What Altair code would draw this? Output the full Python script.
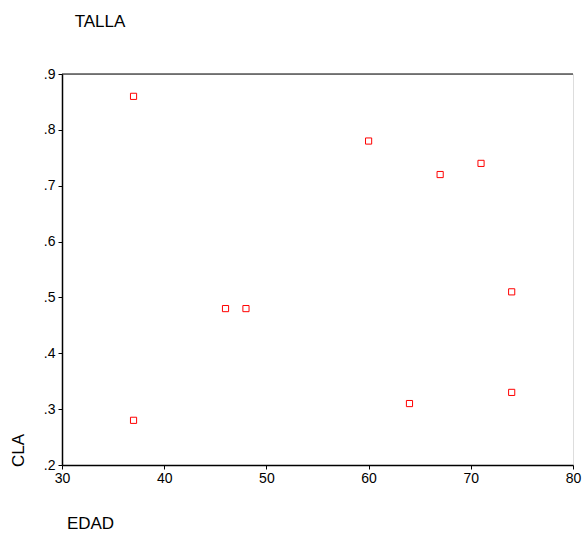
import altair as alt
import pandas as pd

edad = [37, 60, 67, 71, 74, 46, 48, 37, 64, 74]
cla = [0.86, 0.78, 0.72, 0.74, 0.51, 0.48, 0.48, 0.28, 0.31, 0.33]
x_ticks = [30, 40, 50, 60, 70, 80]
y_ticks = [0.2, 0.3, 0.4, 0.5, 0.6, 0.7, 0.8, 0.9]

df = pd.DataFrame({"EDAD": edad, "CLA": cla})
FONT = "Liberation Sans"

common = dict(grid=False, domainColor="black", domainWidth=1.5, tickColor="black", tickSize=4,
              labelColor="black", labelFont=FONT, labelFontSize=14, titleFont=FONT,
              titleColor="black", titleFontWeight="normal", titleFontSize=17,
              labelFlush=False, labelOverlap=False)

points = alt.Chart(df).mark_point(
    shape="square", filled=False, color="#ff0000", size=38, strokeWidth=1, opacity=1
).encode(
    x=alt.X("EDAD:Q", scale=alt.Scale(domain=[30, 80], nice=False, zero=False),
            axis=alt.Axis(values=x_ticks, title="EDAD", format="d", labelPadding=2,
                          titleX=28, titleY=58, titleAlign="center", titleBaseline="middle",
                          **common)),
    y=alt.Y("CLA:Q", scale=alt.Scale(domain=[0.2, 0.9], nice=False, zero=False),
            axis=alt.Axis(values=y_ticks, title="CLA", labelPadding=3,
                          labelExpr="substring(format(datum.value, '.1f'), 1)",
                          titleX=-44, titleY=376, titleAlign="center", titleBaseline="middle",
                          titleAngle=-90, **common)),
)

top_rule = alt.Chart(pd.DataFrame({"a": [0]})).mark_rule(color="black", strokeWidth=1).encode(
    x=alt.value(0), x2=alt.value(511), y=alt.value(0)
)

title_text = alt.Chart(pd.DataFrame({"t": ["TALLA"]})).mark_text(
    font=FONT, fontSize=17, align="center", baseline="middle", color="black"
).encode(text="t:N", x=alt.value(38), y=alt.value(-52))

chart = alt.layer(points, top_rule, title_text).properties(
    width=511, height=391,
    autosize=alt.AutoSizeParams(type="none"),
    padding={"left": 62, "top": 74, "right": 15, "bottom": 68},
).configure_view(
    stroke="#808080", strokeWidth=1.5
).configure(background="white")

chart.save("out.html", embed_options={"renderer": "svg", "actions": False})
